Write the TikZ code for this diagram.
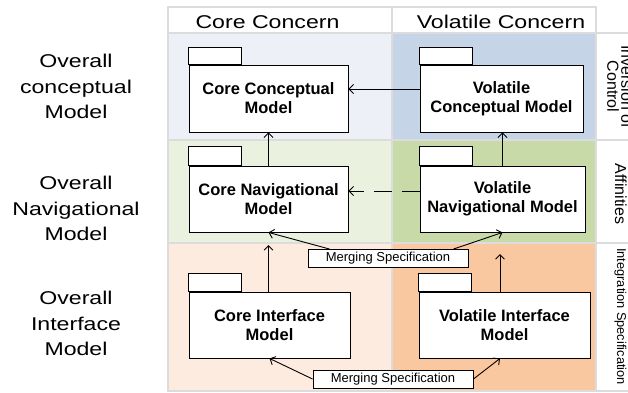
\documentclass[tikz,border=0pt]{standalone}
\usepackage{fontspec}
\setmainfont{Liberation Sans}
\newfontfamily\widefont[FakeStretch=1.25]{Liberation Sans}
\usetikzlibrary{arrows.meta,calc}
\definecolor{cAl}{HTML}{EDF0F6}
\definecolor{cAr}{HTML}{C5D4E6}
\definecolor{cBl}{HTML}{EBF1DF}
\definecolor{cBr}{HTML}{C9DAA9}
\definecolor{cCl}{HTML}{FDEBDF}
\definecolor{cCr}{HTML}{F9C8A0}
\definecolor{gridgray}{HTML}{DCDCDC}
\begin{document}
\begin{tikzpicture}[x=1pt,y=-1pt,
  gridline/.style={draw=gridgray,line width=1.2pt},
  pkg/.style={draw=black,line width=0.9pt,fill=white,align=center,inner sep=0pt,
    font=\fontsize{16.5}{19}\selectfont\bfseries},
  pkgtab/.style={draw=black,line width=0.9pt,fill=white},
  arr/.style={draw=black,line width=0.9pt,-{Straight Barb[length=4.5pt,width=9pt]}},
  dasharr/.style={arr,dash pattern=on 18pt off 10pt},
  mspec/.style={draw=black,line width=0.9pt,fill=white,inner sep=0pt,
    minimum width=160,minimum height=18,font=\fontsize{13}{15}\selectfont},
  header/.style={anchor=base,font=\widefont\fontsize{18.5}{22}\selectfont},
  rowlabel/.style={align=center,font=\widefont\fontsize{18.5}{25.5}\selectfont},
  sidelabel/.style={rotate=-90,align=center}]
\useasboundingbox (0,0) rectangle (628,392);
% cell fills
\fill[cAl] (168,33) rectangle (392,140);
\fill[cAr] (392,33) rectangle (596,140);
\fill[cBl] (168,140) rectangle (392,243);
\fill[cBr] (392,140) rectangle (596,243);
\fill[cCl] (168,243) rectangle (392,391);
\fill[cCr] (392,243) rectangle (596,391);
% grid lines
\draw[gridline] (168,7) rectangle (596,391);
\draw[gridline] (168,33) -- (628,33);
\draw[gridline] (168,140) -- (628,140);
\draw[gridline] (168,243) -- (628,243);
\draw[gridline] (596,391) -- (628,391);
\draw[gridline] (392,7) -- (392,391);
% headers
\node[header] (hcore) at (267.5,28) {Core Concern};
\node[header] (hvol) at (501,28) {Volatile Concern};
% row labels
\node[rowlabel] (lconc) at (76,86.5) {Overall\\conceptual\\Model};
\node[rowlabel] (lnav) at (76,208.5) {Overall\\Navigational\\Model};
\node[rowlabel] (lint) at (76,323.5) {Overall\\Interface\\Model};
% side labels
\node[sidelabel,font=\fontsize{16}{14}\selectfont] (sinv) at (620,86.5) {Inversion of\\Control};
\node[sidelabel,anchor=base,font=\fontsize{16}{18}\selectfont] (saff) at (615,194) {Affinities};
\node[sidelabel,anchor=base,font=\fontsize{12.8}{15}\selectfont] (sint) at (617,316.5) {Integration Specification};
% packages
\node[pkg,minimum width=159,minimum height=67] (ccm) at (268.5,98.5) {Core Conceptual\\Model};
\node[pkg,minimum width=163,minimum height=67] (vcm) at (501.5,98.5) {Volatile\\Conceptual Model};
\node[pkg,minimum width=159,minimum height=66] (cnm) at (268.5,199) {Core Navigational\\Model};
\node[pkg,minimum width=165,minimum height=66] (vnm) at (502.5,199) {Volatile\\Navigational Model};
\node[pkg,minimum width=161,minimum height=66] (cim) at (269.5,325) {Core Interface\\Model};
\node[pkg,minimum width=171,minimum height=66] (vim) at (504.5,325) {Volatile Interface\\Model};
\foreach \n/\h in {ccm/17,vcm/17,cnm/19,vnm/19,cim/18,vim/18}{
  \draw[pkgtab] (\n.north west) rectangle ++(53,-\h);
}
% merging specification boxes
\node[mspec] (ms1) at (388,258.5) {Merging Specification};
\node[mspec] (ms2) at (393,379) {Merging Specification};
% helper coordinates
\coordinate (yconc) at (0,89);
\coordinate (ynav) at (0,191);
\coordinate (t1) at (268.5,245);
\coordinate (t2) at (500,254);
% connectors
\draw[arr] (vcm.west |- yconc) -- (ccm.east |- yconc);
\draw[dasharr] (vnm.west |- ynav) -- (cnm.east |- ynav);
\draw[arr] (cnm.north) -- (ccm.south);
\draw[arr] (vnm.north) -- (vnm.north |- vcm.south);
\draw[arr] ($(ms1.north west)+(22,0)$) -- (cnm.south);
\draw[arr] ($(ms1.north east)+(-15,0)$) -- (vnm.south);
\draw[arr] (t1 |- cim.north) -- (t1);
\draw[arr] (t2 |- vim.north) -- (t2);
\draw[arr] (ms2.west) -- (cim.south);
\draw[arr] (ms2.east) -- (t2 |- vim.south);
\end{tikzpicture}
\end{document}
